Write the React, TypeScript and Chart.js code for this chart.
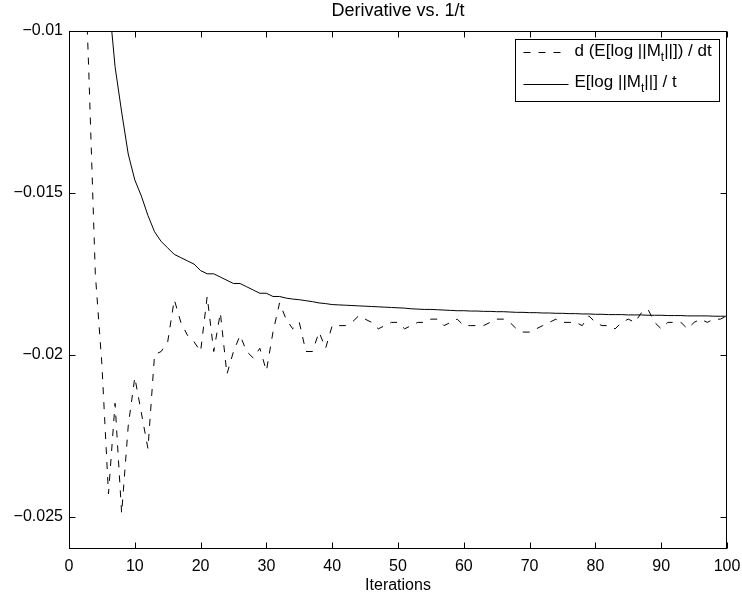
import React, { useEffect, useRef } from "react";
import { Chart, registerables } from "chart.js";

Chart.register(...registerables);

const iterations = [
  1, 2, 3, 4, 5, 6, 7, 8, 9, 10, 11, 12, 13, 14, 15, 16, 17, 18, 19, 20,
  21, 22, 23, 24, 25, 26, 27, 28, 29, 30, 31, 32, 33, 34, 35, 36, 37, 38, 39, 40,
  41, 42, 43, 44, 45, 46, 47, 48, 49, 50, 51, 52, 53, 54, 55, 56, 57, 58, 59, 60,
  61, 62, 63, 64, 65, 66, 67, 68, 69, 70, 71, 72, 73, 74, 75, 76, 77, 78, 79, 80,
  81, 82, 83, 84, 85, 86, 87, 88, 89, 90, 91, 92, 93, 94, 95, 96, 97, 98, 99, 100,
];

// d (E[log ||M_t||]) / dt  (dashed)
const derivative = [
  0.004, -0.0056, -0.0112, -0.0175, -0.0203, -0.0243, -0.0215, -0.0249, -0.0222, -0.0207,
  -0.0218, -0.0229, -0.02, -0.0199, -0.0196, -0.0183, -0.019, -0.0194, -0.0196, -0.0199,
  -0.0182, -0.0199, -0.0187, -0.0206, -0.0199, -0.0194, -0.0199, -0.0201, -0.0198, -0.0205,
  -0.0193, -0.0184, -0.0189, -0.0192, -0.019, -0.0199, -0.0199, -0.0193, -0.0198, -0.0191,
  -0.0191, -0.0191, -0.019, -0.0188, -0.0189, -0.019, -0.0192, -0.0191, -0.019, -0.019,
  -0.0192, -0.0191, -0.019, -0.019, -0.0189, -0.0189, -0.0191, -0.019, -0.0189, -0.0191,
  -0.0191, -0.0191, -0.0191, -0.019, -0.0189, -0.0189, -0.019, -0.0192, -0.0193, -0.0193,
  -0.0192, -0.0191, -0.019, -0.0189, -0.019, -0.019, -0.019, -0.0191, -0.0188, -0.019,
  -0.0191, -0.0191, -0.0192, -0.019, -0.0189, -0.019, -0.0187, -0.0186, -0.019, -0.0192,
  -0.019, -0.019, -0.019, -0.0192, -0.019, -0.0189, -0.019, -0.0189, -0.0189, -0.0188,
];

// E[log ||M_t||] / t  (solid)
const normalized = [
  0.02, 0.009, 0.0015, -0.0035, -0.0067, -0.0089, -0.0111, -0.0125, -0.0138, -0.0146,
  -0.0151, -0.0157, -0.0162, -0.0165, -0.0167, -0.0169, -0.017, -0.0171, -0.0172, -0.0174,
  -0.0175, -0.0175, -0.0176, -0.0177, -0.0178, -0.0178, -0.0179, -0.018, -0.0181, -0.0181,
  -0.0182, -0.0182, -0.01825, -0.01828, -0.0183, -0.01833, -0.01836, -0.0184, -0.01842, -0.01845,
  -0.01846, -0.01847, -0.01848, -0.01849, -0.0185, -0.01851, -0.01852, -0.01853, -0.01854, -0.01855,
  -0.01856, -0.01858, -0.01859, -0.0186, -0.0186, -0.01861, -0.01862, -0.01863, -0.01864, -0.01864,
  -0.01865, -0.01865, -0.01866, -0.01866, -0.01867, -0.01867, -0.01868, -0.01869, -0.01869, -0.0187,
  -0.0187, -0.01871, -0.01871, -0.01872, -0.01872, -0.01873, -0.01873, -0.01874, -0.01874, -0.01875,
  -0.01875, -0.01876, -0.01876, -0.01876, -0.01877, -0.01877, -0.01877, -0.01878, -0.01878, -0.01878,
  -0.01879, -0.01879, -0.01879, -0.0188, -0.0188, -0.0188, -0.0188, -0.01881, -0.01881, -0.01881,
];

const xTicks = [0, 10, 20, 30, 40, 50, 60, 70, 80, 90, 100];
const xTickLabels = ["0", "10", "20", "30", "40", "50", "60", "70", "80", "90", "100"];
const yTicks = [-0.025, -0.02, -0.015, -0.01];
const yTickLabels = ["\u22120.025", "\u22120.02", "\u22120.015", "\u22120.01"];

const titleText = "Derivative vs. 1/t";
const xAxisTitle = "Iterations";
const legendDerivative = ["d (E[log ||M", "t", "||]) / dt"];
const legendNormalized = ["E[log ||M", "t", "||] / t"];

const FONT = "'Liberation Sans', Arial, Helvetica, sans-serif";

const framePlugin = {
  id: "matlabFrame",
  beforeDraw(chart: any) {
    const ctx = chart.ctx;
    ctx.save();
    ctx.fillStyle = "#ffffff";
    ctx.fillRect(0, 0, chart.width, chart.height);
    ctx.restore();
  },
  afterDatasetsDraw(chart: any) {
    const ctx = chart.ctx;
    const a = chart.chartArea;
    const xs = chart.scales.x;
    const ys = chart.scales.y;
    const L = Math.round(a.left) + 0.5;
    const R = Math.round(a.right) - 0.5;
    const T = Math.round(a.top) + 0.5;
    const B = Math.round(a.bottom) - 0.5;
    const tl = 6;
    ctx.save();
    ctx.strokeStyle = "#000";
    ctx.lineWidth = 1;
    ctx.setLineDash([]);
    ctx.strokeRect(L, T, R - L, B - T);
    ctx.beginPath();
    xTicks.forEach((v) => {
      const px = Math.round(xs.getPixelForValue(v)) + 0.5;
      ctx.moveTo(px, B);
      ctx.lineTo(px, B - tl);
      ctx.moveTo(px, T);
      ctx.lineTo(px, T + tl);
    });
    yTicks.forEach((v) => {
      const py = Math.round(ys.getPixelForValue(v)) + 0.5;
      ctx.moveTo(L, py);
      ctx.lineTo(L + tl, py);
      ctx.moveTo(R, py);
      ctx.lineTo(R - tl, py);
    });
    ctx.stroke();

    // legend
    const bw = 204;
    const bh = 62;
    const bx = Math.round(a.right) - 8 - bw + 0.5;
    const by = Math.round(a.top) + 8 + 0.5;
    ctx.fillStyle = "#fff";
    ctx.fillRect(bx, by, bw, bh);
    ctx.strokeRect(bx, by, bw, bh);

    const drawRow = (parts: string[], baseline: number, lineY: number, dash: number[]) => {
      ctx.beginPath();
      ctx.setLineDash(dash);
      ctx.moveTo(bx + 8, lineY);
      ctx.lineTo(bx + 53, lineY);
      ctx.stroke();
      ctx.setLineDash([]);
      let x = bx + 59;
      ctx.fillStyle = "#000";
      ctx.textAlign = "left";
      ctx.textBaseline = "alphabetic";
      ctx.font = `17px ${FONT}`;
      ctx.fillText(parts[0], x, baseline);
      x += ctx.measureText(parts[0]).width;
      ctx.font = `12px ${FONT}`;
      ctx.fillText(parts[1], x, baseline + 5);
      x += ctx.measureText(parts[1]).width;
      ctx.font = `17px ${FONT}`;
      ctx.fillText(parts[2], x, baseline);
    };
    drawRow(legendDerivative, by + 16, by + 13, [7, 8]);
    drawRow(legendNormalized, by + 47, by + 45, []);
    ctx.restore();
  },
  afterDraw(chart: any) {
    const ctx = chart.ctx;
    const a = chart.chartArea;
    const cx = (a.left + a.right) / 2;
    ctx.save();
    ctx.fillStyle = "#000";
    ctx.textAlign = "center";
    ctx.textBaseline = "middle";
    ctx.font = `18px ${FONT}`;
    ctx.fillText(titleText, cx, a.top - 20);
    ctx.font = `16px ${FONT}`;
    ctx.fillText(xAxisTitle, cx, a.bottom + 37);
    ctx.restore();
  },
};

export default function App() {
  const ref = useRef<HTMLCanvasElement | null>(null);

  useEffect(() => {
    if (!ref.current) return;
    const chart = new Chart(ref.current, {
      type: "line",
      data: {
        datasets: [
          {
            label: "d (E[log ||Mt||]) / dt",
            data: iterations.map((x, i) => ({ x, y: derivative[i] })),
            borderColor: "#000",
            borderWidth: 1,
            borderDash: [7, 8],
            pointRadius: 0,
            tension: 0,
            fill: false,
          },
          {
            label: "E[log ||Mt||] / t",
            data: iterations.map((x, i) => ({ x, y: normalized[i] })),
            borderColor: "#000",
            borderWidth: 1,
            pointRadius: 0,
            tension: 0,
            fill: false,
          },
        ],
      },
      options: {
        responsive: false,
        animation: false,
        devicePixelRatio: 1,
        layout: { padding: { top: 31, right: 15, left: 0, bottom: 0 } },
        plugins: {
          legend: { display: false },
          title: { display: false },
          tooltip: { enabled: false },
        },
        scales: {
          x: {
            type: "linear",
            min: 0,
            max: 100,
            afterBuildTicks: (s: any) => {
              s.ticks = xTicks.map((v) => ({ value: v }));
            },
            afterFit: (s: any) => {
              s.height = 52;
              s.paddingLeft = 0;
              s.paddingRight = 0;
            },
            grid: { display: false, drawTicks: false },
            border: { display: false },
            ticks: {
              autoSkip: false,
              maxRotation: 0,
              padding: 8,
              color: "#000",
              font: { family: FONT, size: 16 },
              callback: (_v: any, i: number) => xTickLabels[i],
            },
          },
          y: {
            type: "linear",
            min: -0.026,
            max: -0.01,
            afterBuildTicks: (s: any) => {
              s.ticks = yTicks.map((v) => ({ value: v }));
            },
            afterFit: (s: any) => {
              s.width = 69;
              s.paddingTop = 0;
              s.paddingBottom = 0;
            },
            grid: { display: false, drawTicks: false },
            border: { display: false },
            ticks: {
              autoSkip: false,
              padding: 6,
              color: "#000",
              font: { family: FONT, size: 16 },
              callback: (_v: any, i: number) => yTickLabels[i],
            },
          },
        },
      },
      plugins: [framePlugin],
    });
    return () => chart.destroy();
  }, []);

  return (
    <div style={{ position: "absolute", left: 0, top: 0, width: 742, height: 601, background: "#fff" }}>
      <canvas ref={ref} width={742} height={601} />
    </div>
  );
}
